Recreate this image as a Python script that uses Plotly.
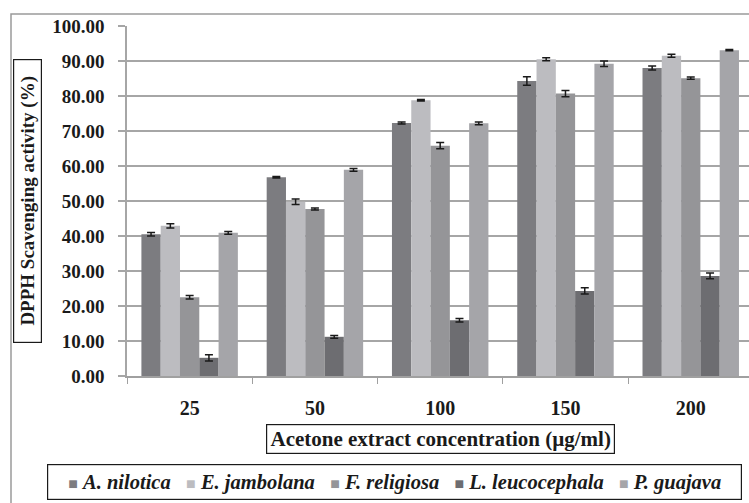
import plotly.graph_objects as go

categories = ["25", "50", "100", "150", "200"]
series_names = ["A. nilotica", "E. jambolana", "F. religiosa", "L. leucocephala", "P. guajava"]
a_nilotica = [40.5, 56.8, 72.3, 84.3, 88.0]
e_jambolana = [42.9, 49.8, 78.8, 90.5, 91.5]
f_religiosa = [22.5, 47.7, 65.8, 80.7, 85.1]
l_leucocephala = [5.2, 11.2, 15.9, 24.3, 28.6]
p_guajava = [40.9, 58.9, 72.2, 89.2, 93.1]
a_err = [0.5, 0.2, 0.3, 1.2, 0.6]
e_err = [0.6, 0.8, 0.2, 0.4, 0.4]
f_err = [0.5, 0.3, 0.9, 0.9, 0.3]
l_err = [0.9, 0.4, 0.5, 0.9, 0.8]
p_err = [0.4, 0.4, 0.4, 0.8, 0.2]
colors = ["#7c7c80", "#bcbcc0", "#959598", "#6d6d71", "#a5a5a9"]
y_ticks = [0, 10, 20, 30, 40, 50, 60, 70, 80, 90, 100]

values = [a_nilotica, e_jambolana, f_religiosa, l_leucocephala, p_guajava]
errors = [a_err, e_err, f_err, l_err, p_err]

FONT = "Liberation Serif, Times New Roman, serif"

fig = go.Figure()
for name, vals, errs, col in zip(series_names, values, errors, colors):
    fig.add_trace(go.Bar(
        x=categories, y=vals, name=name,
        marker=dict(color=col, line=dict(width=0)),
        error_y=dict(type="data", array=errs, visible=True,
                     color="#1a1a1a", thickness=1.5, width=4),
    ))

W, H = 749, 503
L, R, T, B = 127, 0, 26, 127
pw = W - L - R
ph = H - T - B

def px_x(x):
    return (x - L) / pw

def px_y(y):
    return (H - B - y) / ph

fig.update_layout(
    width=W, height=H,
    margin=dict(l=L, r=R, t=T, b=B, pad=0),
    barmode="group", bargap=0.23, bargroupgap=0,
    plot_bgcolor="white", paper_bgcolor="white",
    showlegend=False,
    font=dict(family=FONT, color="#1a1a1a"),
    xaxis=dict(
        type="category", range=[-0.5, 4.465],
        showline=True, linecolor="#a0a0a0", linewidth=1.5,
        ticks="outside", tickson="boundaries", ticklen=6, tickcolor="#a0a0a0", tickwidth=1,
        tickfont=dict(family=FONT, size=20, color="#1a1a1a"),
        tickvals=categories, ticktext=["<b>%s</b>" % c for c in categories],
        ticklabelstandoff=13,
        showgrid=False,
    ),
    yaxis=dict(
        range=[0, 100], tickvals=y_ticks,
        ticktext=["<b>%.2f</b>" % v for v in y_ticks],
        showgrid=True, gridcolor="#a6a6a6", gridwidth=1.5,
        showline=True, linecolor="#a6a6a6", linewidth=1.5,
        ticks="outside", ticklen=7, tickcolor="#a6a6a6", tickwidth=1.5,
        tickfont=dict(family=FONT, size=19, color="#1a1a1a"),
        ticklabelstandoff=10,
        zeroline=False,
    ),
)

# outer chart border
fig.add_shape(type="rect", xref="paper", yref="paper",
              x0=px_x(11), x1=px_x(760), y0=px_y(520), y1=px_y(14),
              line=dict(color="#9a9a9a", width=1.5), fillcolor="rgba(0,0,0,0)",
              layer="below")

# y-axis title (boxed)
fig.add_annotation(
    xref="paper", yref="paper", x=px_x(27), y=px_y(201),
    text="<b>DPPH Scavenging activity (%)</b>", textangle=-90, showarrow=False,
    font=dict(family=FONT, size=19, color="#1a1a1a"),
    bordercolor="#1a1a1a", borderwidth=1.2, borderpad=0,
    width=282, height=27, bgcolor="white",
    xanchor="center", yanchor="middle",
)

# x-axis title (boxed)
fig.add_annotation(
    xref="paper", yref="paper", x=px_x(440.5), y=px_y(439),
    text="<b>Acetone extract concentration (µg/ml)</b>", showarrow=False,
    font=dict(family=FONT, size=21, color="#1a1a1a"),
    bordercolor="#1a1a1a", borderwidth=1.2, borderpad=0,
    width=347, height=28, bgcolor="white",
    xanchor="center", yanchor="middle",
)

# legend (boxed, built from series names/colors)
parts = []
for name, col in zip(series_names, colors):
    parts.append('<span style="color:%s;font-size:16px">■</span>\u00a0<b><i>%s</i></b>' % (col, name))
legend_text = "\u00a0\u00a0\u00a0".join(parts)
fig.add_annotation(
    xref="paper", yref="paper", x=px_x(394.5), y=px_y(482),
    text=legend_text, showarrow=False,
    font=dict(family=FONT, size=20.5, color="#1a1a1a"),
    bordercolor="#1a1a1a", borderwidth=1.2, borderpad=0,
    width=693, height=34, bgcolor="white",
    xanchor="center", yanchor="middle", align="center",
)

fig.write_html("out.html")
